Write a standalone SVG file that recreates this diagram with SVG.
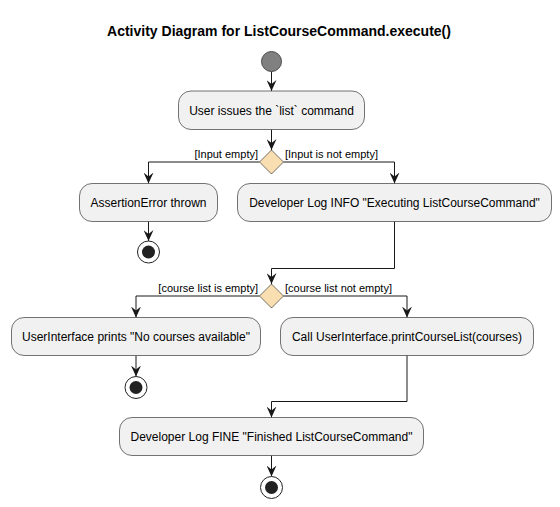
<svg xmlns="http://www.w3.org/2000/svg" width="560" height="507" viewBox="0 0 560 507">
<style>
.box{fill:#F1F1F1;stroke:#181818;stroke-width:0.6}
.dia{fill:#F8DEB0;stroke:#181818;stroke-width:0.6}
.t{font-family:"Liberation Sans",Arial,sans-serif;font-size:12px;fill:#000;text-anchor:middle}
.lbl{font-family:"Liberation Sans",Arial,sans-serif;font-size:11px;fill:#000}
.title{font-family:"Liberation Sans",Arial,sans-serif;font-size:14px;font-weight:bold;fill:#000;text-anchor:middle}
.c{fill:none;stroke:#181818;stroke-width:1}
.endo{fill:#fff;stroke:#222;stroke-width:1}
.endi{fill:#222;stroke:none}
</style>
<defs>
<marker id="arr" markerUnits="userSpaceOnUse" markerWidth="11" markerHeight="10" refX="11" refY="5" orient="auto" viewBox="0 0 11 10">
<path d="M0,0 L11,5 L0,10 L4,5 Z" fill="#181818"/>
</marker>
</defs>
<rect width="560" height="507" fill="#fff"/>
<text class="title" x="279" y="36">Activity Diagram for ListCourseCommand.execute()</text>

<g id="connectors">
<path class="c" d="M271.5,71.5 V91" marker-end="url(#arr)"/>
<path class="c" d="M271.5,129.5 V150" marker-end="url(#arr)"/>
<path class="c" d="M259.5,162 H148.5 V183.5" marker-end="url(#arr)"/>
<path class="c" d="M283.5,162 H394.5 V183.5" marker-end="url(#arr)"/>
<path class="c" d="M148.5,221.5 V241" marker-end="url(#arr)"/>
<path class="c" d="M394.5,221.5 V268.5 H271.5 V284" marker-end="url(#arr)"/>
<path class="c" d="M259.5,296 H136 V317.5" marker-end="url(#arr)"/>
<path class="c" d="M283.5,296 H407 V317.5" marker-end="url(#arr)"/>
<path class="c" d="M136,355.5 V376.5" marker-end="url(#arr)"/>
<path class="c" d="M407,355.5 V401.5 H271.5 V417.5" marker-end="url(#arr)"/>
<path class="c" d="M271.5,455.5 V476.5" marker-end="url(#arr)"/>
<text class="lbl" x="258" y="157.5" text-anchor="end">[Input empty]</text>
<text class="lbl" x="285" y="157.5">[Input is not empty]</text>
<text class="lbl" x="258" y="291.5" text-anchor="end">[course list is empty]</text>
<text class="lbl" x="285" y="291.5">[course list not empty]</text>
</g>

<g id="start"><circle cx="271.5" cy="61.5" r="10" fill="#808080" stroke="#4a4a4a" stroke-width="1"/></g>

<g id="userIssues">
<rect class="box" x="178.5" y="91" width="186" height="38.5" rx="12.5"/>
<text class="t" x="271.5" y="115">User issues the `list` command</text>
</g>

<g id="decision1"><polygon class="dia" points="271.5,150 283.5,162 271.5,174 259.5,162"/></g>

<g id="assertionError">
<rect class="box" x="79.5" y="183.5" width="138" height="38" rx="12.5"/>
<text class="t" x="148.5" y="207">AssertionError thrown</text>
</g>

<g id="end1"><circle class="endo" cx="148.5" cy="252" r="11"/><circle class="endi" cx="148.5" cy="252" r="6.5"/></g>

<g id="logInfo">
<rect class="box" x="237.5" y="183.5" width="314" height="38" rx="12.5"/>
<text class="t" x="394.5" y="207">Developer Log INFO "Executing ListCourseCommand"</text>
</g>

<g id="decision2"><polygon class="dia" points="271.5,284 283.5,296 271.5,308 259.5,296"/></g>

<g id="noCourses">
<rect class="box" x="11.5" y="317.5" width="249" height="38" rx="12.5"/>
<text class="t" x="136" y="341">UserInterface prints "No courses available"</text>
</g>

<g id="end2"><circle class="endo" cx="136" cy="387.5" r="11"/><circle class="endi" cx="136" cy="387.5" r="6.5"/></g>

<g id="printList">
<rect class="box" x="280.5" y="317.5" width="253" height="38" rx="12.5"/>
<text class="t" x="407" y="341">Call UserInterface.printCourseList(courses)</text>
</g>

<g id="logFine">
<rect class="box" x="119.5" y="417.5" width="304" height="38" rx="12.5"/>
<text class="t" x="271.5" y="441">Developer Log FINE "Finished ListCourseCommand"</text>
</g>

<g id="end3"><circle class="endo" cx="271.5" cy="487.5" r="11"/><circle class="endi" cx="271.5" cy="487.5" r="6.5"/></g>
</svg>
